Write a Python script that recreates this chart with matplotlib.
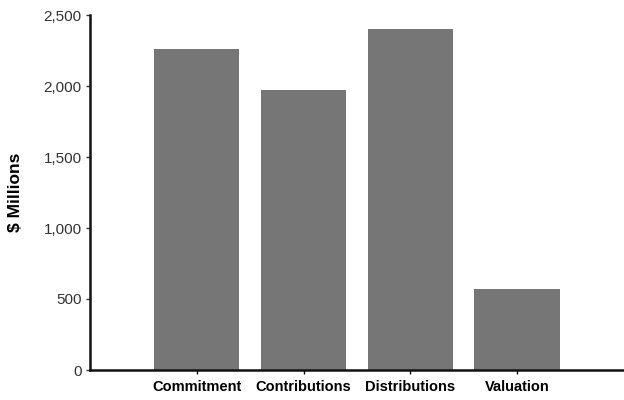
import matplotlib.pyplot as plt
from matplotlib.ticker import FuncFormatter

# data
categories = ['Commitment', 'Contributions', 'Distributions', 'Valuation']
values = [2260, 1970, 2400, 570]
y_ticks = [0, 500, 1000, 1500, 2000, 2500]

plt.rcParams['font.family'] = ['Liberation Sans', 'DejaVu Sans']

width = 624
height = 400
ppi = 100
fig = plt.figure(figsize=(width / ppi, height / ppi), dpi=ppi)
ax = fig.add_axes([0.144, 0.075, 0.856, 0.8875])

x = range(len(categories))
ax.bar(x, values, width=0.8, color='#767676')

ax.set_xlim(-1, 4.0)
ax.set_ylim(0, 2500)
ax.set_yticks(y_ticks)
ax.yaxis.set_major_formatter(FuncFormatter(lambda v, p: '{:,.0f}'.format(v)))
ax.set_xticks(list(x))
ax.set_xticklabels(categories, fontsize=10.5, fontweight='bold')
ax.tick_params(axis='y', labelsize=11, length=3, width=1, pad=3, colors='#333333')
ax.tick_params(axis='x', length=3, width=1, pad=4)

for side in ['top', 'right']:
    ax.spines[side].set_visible(False)
for side in ['left', 'bottom']:
    ax.spines[side].set_linewidth(1.8)
    ax.spines[side].set_color('#111111')

ax.set_ylabel('$ Millions', fontsize=12.5, fontweight='bold')
ax.yaxis.set_label_coords(-0.125, 0.5)

plt.savefig('out.png', dpi=ppi)
